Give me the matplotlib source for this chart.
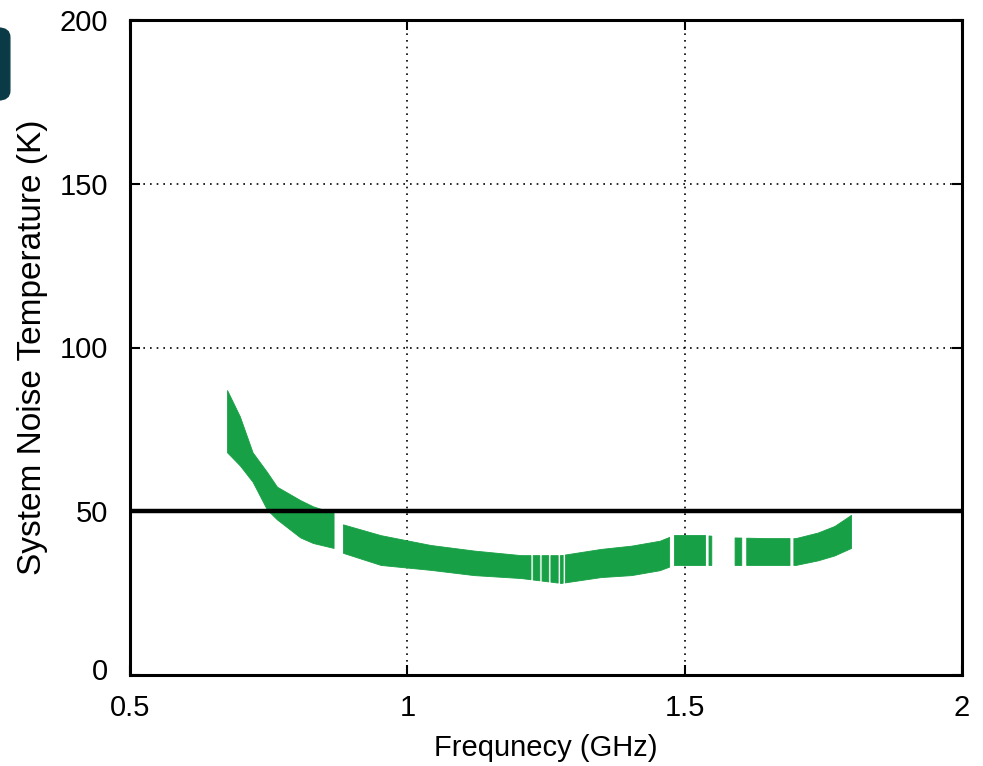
import numpy as np
import matplotlib
matplotlib.use("Agg")
import matplotlib.pyplot as plt
import matplotlib.transforms as mtransforms
from matplotlib.patches import FancyBboxPatch

plt.rcParams['font.family'] = ['Liberation Sans', 'DejaVu Sans']

# ---- data ----
freq = [0.675, 0.698, 0.721, 0.747, 0.765, 0.807, 0.830, 0.867, 0.884, 0.952,
        1.042, 1.120, 1.205, 1.277, 1.349, 1.404, 1.455, 1.480, 1.536, 1.590,
        1.650, 1.700, 1.740, 1.770, 1.800]
upper = [87, 79, 68, 62, 57.5, 53.4, 51.5, 49.5, 46, 42.7,
         39.7, 38, 36.6, 36.6, 38.5, 39.5, 41, 42.7, 42.7, 42,
         41.8, 41.8, 43.5, 45.5, 48.9]
lower = [68, 64, 59, 50.5, 47.5, 42, 40.3, 38.8, 37.3, 33.6,
         32.1, 30.5, 29.6, 28.1, 29.9, 30.5, 32, 33.6, 33.6, 33.6,
         33.6, 33.6, 35, 36.5, 38.8]
gaps = [(0.867, 0.884), (1.222, 1.226), (1.238, 1.242), (1.254, 1.258),
        (1.271, 1.275), (1.280, 1.284), (1.472, 1.480), (1.536, 1.543),
        (1.548, 1.590), (1.602, 1.611), (1.689, 1.696)]
threshold = 50
xticks = [0.5, 1, 1.5, 2]
xticklabels = ['0.5', '1', '1.5', '2']
yticks = [0, 50, 100, 150, 200]

fig = plt.figure(figsize=(9.83, 7.66), dpi=100)
ax = fig.add_axes([130/983, 1-675/766, (962-130)/983, (675-20)/766])

freq_a = np.array(freq)
up_a = np.array(upper)
lo_a = np.array(lower)

# build segments between gaps
edges = [freq[0]]
for g0, g1 in gaps:
    edges += [g0, g1]
edges.append(freq[-1])
green = '#17a045'
for s, e in zip(edges[0::2], edges[1::2]):
    inside = freq_a[(freq_a > s) & (freq_a < e)]
    xs = np.concatenate([[s], inside, [e]])
    ax.fill_between(xs, np.interp(xs, freq_a, lo_a), np.interp(xs, freq_a, up_a),
                    color=green, linewidth=0.6, edgecolor=green, zorder=3)

ax.axhline(threshold, color='black', linewidth=3.2, zorder=4)

ax.set_xlim(0.5, 2)
ax.set_ylim(0, 200)
ax.set_xticks(xticks)
ax.set_xticklabels(xticklabels)
ax.set_yticks(yticks)
ax.grid(True, color='black', linestyle=(0, (1, 3)), linewidth=1.2)
ax.tick_params(direction='in', length=7, width=1.5, labelsize=21,
               top=True, right=True)
ax.tick_params(axis='y', pad=16)
ax.tick_params(axis='x', pad=14)
for sp in ax.spines.values():
    sp.set_linewidth(2.2)
    sp.set_color('black')

# lift the y "0" label a little, as in the reference
ylabels = ax.get_yticklabels()
ylabels[0].set_transform(ylabels[0].get_transform() +
                         mtransforms.ScaledTranslation(0, 6/100, fig.dpi_scale_trans))

ax.set_xlabel('Frequnecy (GHz)', fontsize=21, labelpad=8)
ax.set_ylabel('System Noise Temperature (K)', fontsize=24, labelpad=8)

# panel label fragment at top-left
fig.patches.append(FancyBboxPatch((-0.03, 1-100/766), 0.04, 72/766,
                                  boxstyle='round,pad=0,rounding_size=0.012',
                                  transform=fig.transFigure, color='#0a3a45',
                                  figure=fig))

fig.savefig('out.png', dpi=100)
